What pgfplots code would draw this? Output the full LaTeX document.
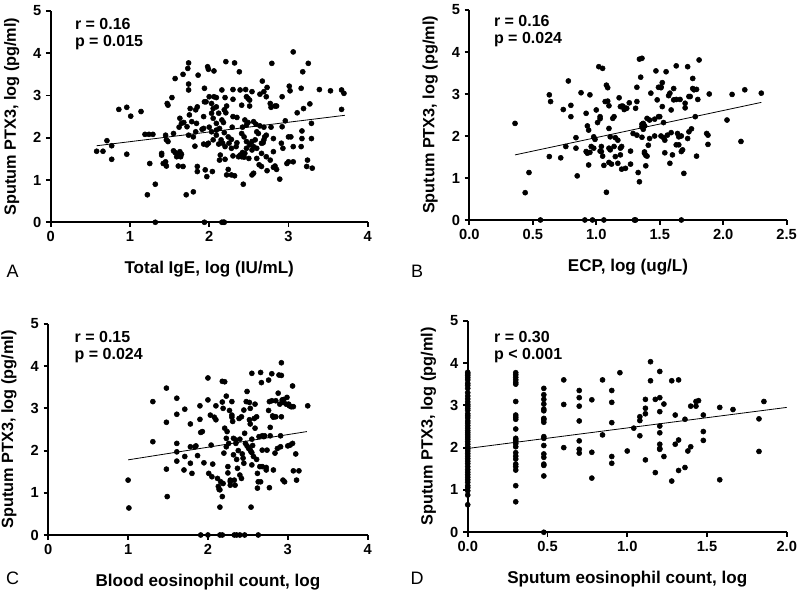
\documentclass[border=0pt]{standalone}
\usepackage{pgfplots}
\pgfplotsset{compat=1.18}
\usepackage{fontspec}
\setmainfont{Liberation Sans}
\newcommand{\lab}{\bfseries\fontsize{12.8}{14}\selectfont}
\newcommand{\ylab}{\bfseries\fontsize{12.2}{14}\selectfont}
\newcommand{\ticklab}{\bfseries\fontsize{11}{12}\selectfont}
\newcommand{\stat}{\bfseries\fontsize{12}{13}\selectfont}
\pgfplotsset{
  panel/.style={
    scale only axis, clip=false,
    axis lines=left, axis line style={-, line width=1.4pt},
    tick align=outside, major tick length=3.5pt,
    tick style={black, line width=1.4pt},
    xmin=0, ymin=0, ymax=5, ytick={0,1,2,3,4,5},
    ticklabel style={font=\ticklab},
    /pgf/number format/assume math mode=true,
    xlabel style={at={(axis description cs:0.5,0)}, anchor=north, inner sep=0pt, yshift=-29pt, font=\lab},
    ylabel style={at={(axis description cs:-0.123,0.5)}, anchor=center, inner sep=0pt, font=\ylab},
    ylabel={Sputum PTX3, log (pg/ml)},
  },
  onedec/.style={xticklabel style={/pgf/number format/.cd, fixed, fixed zerofill, precision=1}},
  dots/.style={only marks, mark=*, mark size=1.9pt, black},
  fit/.style={black, line width=0.6pt, mark=none},
}
\begin{document}
\begin{tikzpicture}
\path[use as bounding box] (0,0) rectangle (600pt,448.5pt);

% A: total IgE
\begin{axis}[panel, at={(38pt,281.8pt)}, anchor=south west, width=237.8pt, height=158.5pt,
  xmax=4, xtick={0,1,2,3,4}, xlabel={Total IgE, log (IU/mL)}]
\addplot[dots] coordinates {
(3.06,4.03)(1.74,3.77)(2.21,3.80)(2.32,3.77)(2.79,3.76)(3.25,3.76)(1.98,3.68)(1.99,3.62)(2.06,3.58)(1.73,3.64)(2.38,3.56)(1.67,3.50)(1.86,3.48)(3.18,3.56)(1.57,3.40)(2.67,3.34)(1.74,3.27)(1.94,3.17)(3.01,3.22)(2.16,3.13)(2.30,3.14)(2.39,3.13)(2.46,3.14)(2.54,3.09)(2.64,3.03)(2.69,3.09)(2.73,3.19)(3.02,3.11)(3.16,3.17)(3.39,3.14)(3.53,3.11)(3.67,3.13)(3.70,3.05)
(1.53,2.95)(1.47,2.81)(1.48,2.77)(1.74,3.13)(2.00,2.97)(2.06,2.97)(2.09,2.95)(2.20,2.95)(2.30,2.91)(2.47,2.97)(2.49,2.93)(2.51,2.89)(2.72,2.97)(2.92,2.97)(1.94,2.85)(1.96,2.85)(2.03,2.81)(1.85,2.73)(1.76,2.69)(1.83,2.66)(2.05,2.69)(2.09,2.73)(2.19,2.66)(2.22,2.75)(2.41,2.77)(2.51,2.75)(2.77,2.81)(2.78,2.72)(2.83,2.75)(2.85,2.75)(3.27,2.80)(3.19,2.69)(3.11,2.59)(3.67,2.67)(0.86,2.67)(0.96,2.72)(1.01,2.51)(1.14,2.62)
(1.75,2.54)(1.63,2.46)(1.72,2.26)(1.68,2.36)(1.65,2.34)(1.62,2.25)(1.78,2.38)(1.84,2.34)(1.93,2.50)(2.03,2.58)(2.05,2.46)(2.12,2.58)(2.16,2.42)(2.21,2.59)(2.18,2.36)(2.09,2.34)(2.13,2.22)(2.30,2.50)(2.35,2.48)(2.45,2.42)(2.49,2.36)(2.56,2.38)(2.59,2.32)(2.47,2.30)(2.42,2.25)(2.29,2.25)(2.64,2.28)(2.69,2.25)(2.78,2.25)(2.92,2.26)(2.96,2.40)(3.29,2.34)(3.17,2.16)
(1.19,2.08)(1.24,2.08)(1.29,2.08)(1.45,2.06)(1.46,1.95)(1.48,1.91)(1.55,2.10)(1.74,2.06)(1.80,2.02)(1.83,2.14)(1.91,2.20)(1.93,2.22)(2.00,2.25)(2.03,2.14)(2.09,2.06)(2.09,2.18)(2.19,2.12)(2.24,2.02)(2.28,1.96)(2.35,1.88)(2.41,2.10)(2.44,2.02)(2.47,1.91)(2.54,1.91)(2.58,1.95)(2.60,2.14)(2.62,2.10)(2.69,1.95)(2.70,2.02)(2.72,2.06)(2.81,1.98)(3.00,2.02)(3.03,2.02)(3.17,1.98)(3.29,1.98)(3.16,1.79)(3.06,1.79)
(0.58,1.68)(0.66,1.68)(0.71,1.93)(0.77,1.81)(0.96,1.61)(0.77,1.49)(1.55,1.69)(1.57,1.65)(1.61,1.61)(1.63,1.67)(1.65,1.61)(1.59,1.55)(1.64,1.55)(1.40,1.63)(1.40,1.59)(1.82,1.80)(1.93,1.85)(1.97,1.83)(1.99,1.87)(2.05,1.95)(2.12,1.85)(2.15,1.95)(2.17,1.87)(2.20,1.79)(2.25,1.87)(2.28,1.75)(2.34,1.79)(2.39,1.59)(2.42,1.65)(2.45,1.63)(2.47,1.75)(2.51,1.83)(2.54,1.71)(2.56,1.79)(2.60,1.75)(2.66,1.87)(2.68,1.88)(2.66,1.63)(2.72,1.55)(2.81,1.67)(2.91,1.87)(2.93,1.75)
(1.25,1.39)(1.42,1.39)(1.45,1.43)(1.46,1.33)(1.61,1.33)(1.67,1.32)(1.85,1.32)(1.85,1.20)(1.95,1.24)(1.97,1.08)(2.04,1.20)(2.14,1.59)(2.13,1.47)(2.20,1.49)(2.24,1.25)(2.30,1.57)(2.37,1.55)(2.41,1.55)(2.44,1.54)(2.50,1.51)(2.60,1.51)(2.63,1.36)(2.66,1.32)(2.73,1.22)(2.77,1.47)(2.81,1.30)(2.85,1.25)(2.83,1.33)(2.98,1.39)(3.00,1.43)(3.06,1.43)(3.24,1.47)(3.23,1.32)(3.30,1.28)(2.89,1.02)(2.54,1.12)(2.56,1.16)(2.28,1.12)(2.22,1.12)(2.32,1.10)(2.43,0.90)
(1.32,0.90)(1.22,0.65)(1.71,0.65)(1.80,0.72)
(1.32,0)(1.94,0)(2.16,0)(2.18,0)(2.19,0)
};
\addplot[fit] coordinates {(0.58,1.81)(3.71,2.53)};
\node[anchor=west, font=\stat] at (axis description cs:0.062,0.94) {r = 0.16};
\node[anchor=west, font=\stat] at (axis description cs:0.062,0.85) {p = 0.015};
\end{axis}

% B: ECP
\begin{axis}[panel, onedec, at={(352pt,283.5pt)}, anchor=south west, width=238pt, height=157.5pt,
  xmax=2.5, xtick={0,0.5,1,1.5,2,2.5}, xlabel={ECP, log (ug/L)}]
\addplot[dots] coordinates {
(0.36,2.30)(0.47,1.13)(0.44,0.65)(0.63,2.98)(0.64,2.82)(0.63,1.51)(0.72,1.48)(0.74,2.63)(0.76,1.75)(0.78,3.31)(0.80,2.73)(0.80,2.46)(0.84,1.96)(0.84,1.71)(0.85,1.05)(0.88,3.03)(0.92,2.54)(0.93,2.24)(0.94,2.14)(0.95,2.98)(0.95,1.61)(0.92,1.63)(0.93,1.59)(0.94,1.31)(0.96,1.75)(0.98,1.71)(0.98,1.98)(0.99,1.92)(1.00,2.62)(1.01,2.32)(1.02,3.65)(1.05,3.61)(1.03,2.46)(1.03,2.41)(1.04,1.75)(1.03,1.64)(1.04,1.63)(1.05,1.52)(1.06,1.30)
(1.07,2.82)(1.08,3.21)(1.09,3.15)(1.09,2.83)(1.10,2.72)(1.10,2.18)(1.11,1.98)(1.10,1.71)(1.10,1.37)(1.08,0.66)(1.11,1.67)(1.12,1.33)(1.13,2.42)(1.14,2.46)(1.15,1.96)(1.14,1.75)(1.15,1.51)(1.17,1.35)(1.17,1.90)(1.18,2.91)(1.19,2.70)(1.19,1.71)(1.19,1.55)(1.20,1.75)(1.20,2.71)(1.20,1.21)(1.21,2.71)(1.22,2.63)(1.23,2.66)(1.23,1.23)(1.24,2.66)(1.27,1.64)(1.26,2.79)(1.27,1.33)(1.29,2.06)
(1.31,2.66)(1.32,2.82)(1.32,3.16)(1.32,2.02)(1.33,1.13)(1.34,0.91)(1.34,3.83)(1.36,3.85)(1.35,3.40)(1.36,1.97)(1.36,2.28)(1.36,2.22)(1.37,2.30)(1.37,2.16)(1.38,2.24)(1.38,1.59)(1.38,2.24)(1.38,1.62)(1.39,1.54)(1.39,1.29)(1.40,1.52)(1.40,2.42)(1.41,1.78)(1.42,1.94)(1.42,2.38)(1.43,3.02)(1.46,2.40)(1.46,2.00)(1.47,3.55)(1.48,2.86)(1.49,3.16)(1.49,2.46)(1.50,2.46)(1.51,3.17)(1.51,2.00)(1.51,3.15)(1.52,3.27)(1.52,2.70)(1.53,2.32)(1.53,1.96)(1.54,1.90)(1.54,1.60)
(1.55,3.53)(1.56,2.02)(1.57,2.96)(1.58,3.02)(1.58,1.35)(1.59,2.62)(1.59,2.08)(1.60,1.55)(1.61,3.13)(1.61,2.86)(1.63,1.79)(1.63,3.67)(1.63,2.87)(1.64,2.06)(1.65,1.98)(1.65,1.79)(1.66,2.87)(1.67,1.63)(1.67,2.00)(1.68,1.67)(1.69,1.11)(1.70,2.78)(1.70,2.67)(1.72,3.65)(1.72,1.94)(1.73,2.10)(1.73,2.94)(1.74,2.94)(1.75,2.17)(1.76,3.37)(1.76,3.13)(1.77,3.10)(1.78,2.46)(1.79,1.52)(1.79,3.11)(1.80,2.87)(1.81,3.81)
(1.87,2.06)(1.88,2.02)(1.88,1.80)(1.89,3.00)(2.03,2.38)(2.07,2.99)(2.14,1.87)(2.17,3.10)(2.30,3.02)
(0.56,0)(0.91,0)(0.97,0)(1.06,0)(1.30,0)(1.31,0)(1.67,0)
};
\addplot[fit] coordinates {(0.36,1.55)(2.30,2.80)};
\node[anchor=west, font=\stat] at (axis description cs:0.063,0.949) {r = 0.16};
\node[anchor=west, font=\stat] at (axis description cs:0.063,0.86) {p = 0.024};
\end{axis}

% C: blood eosinophils
\begin{axis}[panel, at={(36.2pt,47.25pt)}, anchor=south west, width=239.5pt, height=158.3pt,
  xmax=4, xtick={0,1,2,3,4}, xlabel={Blood eosinophil count, log}]
\addplot[dots] coordinates {
(1.00,1.30)(1.01,0.64)(1.31,3.16)(1.31,2.21)(1.48,3.48)(1.48,2.67)(1.48,1.56)(1.49,0.91)(1.61,3.24)(1.61,2.86)(1.61,2.17)(1.61,1.97)(1.61,1.75)(1.71,2.98)(1.71,1.86)(1.70,1.54)(1.78,2.63)(1.78,2.09)(1.78,1.70)(1.80,1.46)(1.84,2.09)(1.85,2.11)(1.87,1.88)(1.90,3.06)(1.90,2.74)(1.91,2.43)(1.93,2.45)(1.95,1.71)
(2.00,3.72)(2.00,3.20)(2.01,1.46)(2.03,2.84)(2.04,2.13)(2.05,1.38)(2.06,1.68)(2.08,2.79)(2.10,2.73)(2.10,3.06)(2.12,1.34)(2.13,1.15)(2.14,1.08)(2.15,1.07)(2.16,1.26)(2.15,0.66)(2.18,0.91)(2.18,3.64)(2.21,3.63)(2.18,3.15)(2.19,3.00)(2.19,1.22)(2.20,1.94)(2.21,2.53)(2.23,3.29)(2.23,2.29)(2.23,2.09)(2.24,2.45)(2.25,1.47)(2.25,1.62)(2.26,2.17)(2.27,2.95)(2.28,1.18)(2.28,1.30)(2.28,1.26)
(2.30,2.84)(2.30,2.79)(2.30,3.16)(2.31,2.69)(2.32,2.29)(2.32,1.90)(2.33,1.30)(2.34,1.18)(2.35,2.25)(2.35,2.17)(2.36,1.79)(2.37,1.58)(2.38,2.00)(2.39,2.76)(2.40,2.27)(2.40,1.42)(2.42,2.80)(2.42,1.34)(2.43,1.92)(2.44,1.82)(2.45,2.96)(2.45,1.70)(2.46,2.41)(2.47,2.17)(2.48,3.16)(2.49,3.40)(2.49,2.11)(2.51,2.05)(2.52,3.14)(2.52,2.73)(2.53,3.00)(2.53,2.63)(2.53,2.01)(2.54,1.97)(2.55,3.83)(2.55,1.95)(2.55,1.66)(2.54,0.66)(2.55,2.27)(2.56,2.12)(2.57,1.86)(2.58,2.76)(2.59,3.10)(2.59,2.53)
(2.61,2.80)(2.61,1.79)(2.62,1.46)(2.62,1.11)(2.63,1.26)(2.64,2.33)(2.65,1.62)(2.66,3.85)(2.66,1.26)(2.67,3.61)(2.68,2.01)(2.68,2.35)(2.68,1.62)(2.70,2.33)(2.71,2.35)(2.73,1.60)(2.73,1.54)(2.74,2.01)(2.76,2.95)(2.76,3.67)(2.77,3.16)(2.77,1.12)(2.78,2.55)(2.78,2.35)(2.80,3.82)(2.80,3.18)(2.81,2.82)(2.82,2.79)(2.82,1.54)(2.84,1.94)(2.85,2.80)(2.85,3.18)(2.87,2.05)(2.88,3.36)(2.89,3.79)(2.90,3.10)(2.91,2.35)(2.91,2.09)(2.92,2.80)(2.92,4.08)(2.92,3.78)
(2.93,3.20)(2.94,3.14)(2.94,1.30)(2.95,3.21)(2.96,1.26)(2.98,3.10)(2.99,3.26)(3.00,2.11)(3.01,3.10)(3.02,3.06)(3.03,2.13)(3.04,3.04)(3.05,3.04)(3.06,3.53)(3.06,2.17)(3.07,3.04)(3.07,1.52)(3.10,1.92)(3.11,1.30)(3.14,1.52)(3.25,3.06)
(1.91,0)(2.00,0)(2.15,0)(2.18,0)(2.33,0)(2.36,0)(2.40,0)(2.46,0)(2.63,0)
};
\addplot[fit] coordinates {(1.00,1.78)(3.24,2.45)};
\node[anchor=west, font=\stat] at (axis description cs:0.068,0.94) {r = 0.15};
\node[anchor=west, font=\stat] at (axis description cs:0.068,0.85) {p = 0.024};
\end{axis}

% D: sputum eosinophils
\begin{axis}[panel, onedec, at={(350.8pt,49.3pt)}, anchor=south west, width=239.25pt, height=158.7pt,
  xmax=2, xtick={0,0.5,1,1.5,2}, xlabel={Sputum eosinophil count, log}]
\addplot[dots] coordinates {
(0,3.78)(0,3.74)(0,3.70)(0,3.65)(0,3.60)(0,3.52)(0,3.47)(0,3.40)(0,3.30)(0,3.22)(0,3.15)(0,3.08)(0,3.02)(0,2.98)(0,2.93)(0,2.88)(0,2.80)(0,2.75)(0,2.70)(0,2.63)(0,2.58)(0,2.52)(0,2.46)(0,2.40)(0,2.35)(0,2.30)(0,2.25)(0,2.20)(0,2.14)(0,2.08)(0,2.02)(0,1.97)(0,1.92)(0,1.86)(0,1.80)(0,1.74)(0,1.68)(0,1.62)(0,1.55)(0,1.48)(0,1.42)(0,1.36)(0,1.30)(0,1.24)(0,1.18)(0,1.10)(0,1.05)(0,0.98)(0,0.88)(0,0.65)
(0.301,3.77)(0.301,3.72)(0.301,3.66)(0.301,3.60)(0.301,3.54)(0.301,3.50)(0.301,3.09)(0.301,2.77)(0.301,2.72)(0.301,2.67)(0.301,2.44)(0.301,2.22)(0.301,2.18)(0.301,2.14)(0.301,2.09)(0.301,2.02)(0.301,1.88)(0.301,1.80)(0.301,1.73)(0.301,1.61)(0.301,1.55)(0.301,1.47)(0.301,1.10)(0.301,0.72)
(0.477,3.40)(0.477,3.25)(0.477,3.14)(0.477,3.03)(0.477,2.91)(0.477,2.87)(0.477,2.69)(0.477,2.66)(0.477,2.60)(0.477,2.26)(0.477,2.22)(0.477,2.05)(0.477,1.85)(0.477,1.77)(0.477,1.61)(0.477,1.58)(0.477,1.33)(0.477,0)
(0.602,3.60)(0.602,3.02)(0.602,2.00)
(0.699,3.35)(0.699,3.18)(0.699,2.98)(0.699,2.63)(0.699,2.16)(0.699,1.96)(0.699,1.87)
(0.778,3.13)(0.778,1.89)(0.778,1.28)
(0.845,3.60)(0.845,2.30)
(0.903,3.35)(0.903,3.07)(0.903,2.59)(0.903,1.79)(0.903,1.63)
(0.954,3.77)(1.000,1.92)(1.041,2.46)
(1.079,2.73)(1.079,2.64)(1.079,2.28)
(1.114,3.14)(1.114,2.93)(1.114,2.80)(1.114,1.71)
(1.146,4.03)(1.146,3.58)
(1.176,3.14)(1.176,1.41)
(1.204,3.80)(1.204,3.18)(1.204,2.85)(1.204,2.51)(1.204,2.35)(1.204,2.08)(1.204,1.98)(1.204,1.96)
(1.230,3.03)(1.230,1.79)
(1.279,3.58)(1.279,1.21)
(1.301,2.77)(1.301,2.08)
(1.322,3.60)(1.322,2.18)(1.322,1.46)
(1.362,2.67)(1.362,1.53)
(1.380,1.92)(1.398,2.02)(1.398,2.98)
(1.431,2.98)(1.431,3.09)(1.447,3.11)
(1.477,2.77)(1.477,2.38)(1.477,2.17)
(1.580,2.95)(1.580,1.24)
(1.663,2.90)
(1.826,2.68)(1.826,1.91)
(1.857,3.09)
};
\addplot[fit] coordinates {(0,1.98)(2,2.95)};
\node[anchor=west, font=\stat] at (axis description cs:0.068,0.924) {r = 0.30};
\node[anchor=west, font=\stat] at (axis description cs:0.068,0.837) {p < 0.001};
\end{axis}

\node[font=\fontsize{13.5}{15}\selectfont] at (9.5pt,245.3pt) {A};
\node[font=\fontsize{13.5}{15}\selectfont] at (312.8pt,245.3pt) {B};
\node[font=\fontsize{13.5}{15}\selectfont] at (9.5pt,15pt) {C};
\node[font=\fontsize{13.5}{15}\selectfont] at (312.8pt,15pt) {D};
\end{tikzpicture}
\end{document}
